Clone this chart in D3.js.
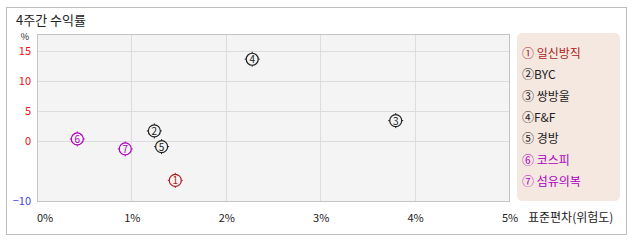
<!DOCTYPE html>
<html>
<head>
<meta charset="utf-8">
<script src="https://cdn.jsdelivr.net/npm/d3@7"></script>
<style>
  body { margin: 0; background: #fff; }
  text { font-family: "Noto Sans CJK KR", "Noto Sans", sans-serif; }
</style>
</head>
<body>
<div id="chart"></div>
<script>
// data
var labels = ["①", "②", "③", "④", "⑤", "⑥", "⑦"];
var names = ["일신방직", "BYC", "쌍방울", "F&F", "경방", "코스피", "섬유의복"];
var riskValues = [1.465, 1.243, 3.80, 2.28, 1.32, 0.427, 0.935];   // 표준편차 (%)
var returnValues = [-6.57, 1.67, 3.38, 13.6, -0.95, 0.33, -1.33];  // 4주간 수익률 (%)
var colors = ["#b01c1c", "#222", "#222", "#222", "#222", "#b000c0", "#b000c0"];
var xTicks = [0, 1, 2, 3, 4, 5];
var yTicks = [15, 10, 5, 0, -10];

var svgWidth = 638;
var svgHeight = 242;

var plot = { left: 37, top: 34, right: 509, bottom: 201 };

var svg = d3.select("#chart")
    .append("svg")
    .attr("width", svgWidth)
    .attr("height", svgHeight);

// outer frame
svg.append("rect")
    .attr("x", 6.5).attr("y", 7.5)
    .attr("width", 620).attr("height", 227)
    .attr("fill", "#fff")
    .attr("stroke", "#bdbdbd");

svg.append("text")
    .attr("x", 16).attr("y", 25)
    .attr("font-size", "13px")
    .attr("fill", "#222")
    .text("4주간 수익률");

var x = d3.scaleLinear().domain([0, 5]).range([plot.left, plot.right]);
var y = d3.scaleLinear().domain([-10, 17.8]).range([plot.bottom, plot.top]);

// plot background
svg.append("rect")
    .attr("x", plot.left).attr("y", plot.top)
    .attr("width", plot.right - plot.left)
    .attr("height", plot.bottom - plot.top)
    .attr("fill", "#f4f4f4");

// grid
svg.append("g")
    .selectAll("line")
    .data(xTicks.slice(1, -1))
    .enter()
    .append("line")
    .attr("x1", d => Math.round(x(d)) + 0.5)
    .attr("x2", d => Math.round(x(d)) + 0.5)
    .attr("y1", plot.top)
    .attr("y2", plot.bottom)
    .attr("stroke", "#dcdcdc");

svg.append("g")
    .selectAll("line")
    .data(yTicks.filter(d => d > -10))
    .enter()
    .append("line")
    .attr("x1", plot.left)
    .attr("x2", plot.right)
    .attr("y1", d => Math.round(y(d)) + 0.5)
    .attr("y2", d => Math.round(y(d)) + 0.5)
    .attr("stroke", "#dcdcdc");

// plot border
svg.append("rect")
    .attr("x", plot.left + 0.5).attr("y", plot.top + 0.5)
    .attr("width", plot.right - plot.left)
    .attr("height", plot.bottom - plot.top)
    .attr("fill", "none")
    .attr("stroke", "#c4c4c4");

// y tick labels
svg.append("g")
    .selectAll("text")
    .data(yTicks)
    .enter()
    .append("text")
    .attr("x", 31)
    .attr("y", d => y(d) + 4)
    .attr("text-anchor", "end")
    .attr("font-size", "11px")
    .attr("fill", d => d < 0 ? "#4444ee" : "#ee1111")
    .text(d => d < 0 ? "\u221210" : d);

svg.append("text")
    .attr("x", 25).attr("y", 40)
    .attr("text-anchor", "middle")
    .attr("font-size", "9px")
    .attr("fill", "#222")
    .text("%");

// x tick labels
svg.append("g")
    .selectAll("text")
    .data(xTicks)
    .enter()
    .append("text")
    .attr("x", d => d === 0 ? x(d) : x(d) + 1)
    .attr("y", 222)
    .attr("text-anchor", d => d === 0 ? "start" : "middle")
    .attr("font-size", "11px")
    .attr("fill", "#222")
    .text(d => d + "%");

svg.append("text")
    .attr("x", 528).attr("y", 222)
    .attr("font-size", "12px")
    .attr("fill", "#222")
    .text("표준편차(위험도)");

// points
var points = svg.append("g")
    .selectAll("g")
    .data(labels.map((l, i) => ({ label: l, risk: riskValues[i], ret: returnValues[i], color: colors[i] })))
    .enter()
    .append("g")
    .attr("transform", d => `translate(${x(d.risk)}, ${y(d.ret)})`);

points.append("circle")
    .attr("r", 6)
    .attr("fill", "none")
    .attr("stroke", d => d.color)
    .attr("stroke-width", 1.2);

points.selectAll("line")
    .data(d => [[0, -6, 0, -7.5], [0, 6, 0, 7.5], [-6, 0, -7.5, 0], [6, 0, 7.5, 0]].map(t => ({ t: t, color: d.color })))
    .enter()
    .append("line")
    .attr("x1", d => d.t[0]).attr("y1", d => d.t[1])
    .attr("x2", d => d.t[2]).attr("y2", d => d.t[3])
    .attr("stroke", d => d.color);

points.append("text")
    .attr("text-anchor", "middle")
    .attr("y", 4)
    .attr("font-size", "10px")
    .attr("fill", d => d.color)
    .text((d, i) => i + 1);

// legend
svg.append("rect")
    .attr("x", 517).attr("y", 33)
    .attr("width", 103).attr("height", 168)
    .attr("rx", 5)
    .attr("fill", "#f5e8e1");

svg.append("g")
    .selectAll("text")
    .data(names)
    .enter()
    .append("text")
    .attr("x", 522)
    .attr("y", (d, i) => 58 + i * 21.3)
    .attr("font-size", "12px")
    .attr("fill", (d, i) => colors[i])
    .text((d, i) => labels[i] + (i === 1 || i === 3 ? "" : " ") + d);
</script>
</body>
</html>
